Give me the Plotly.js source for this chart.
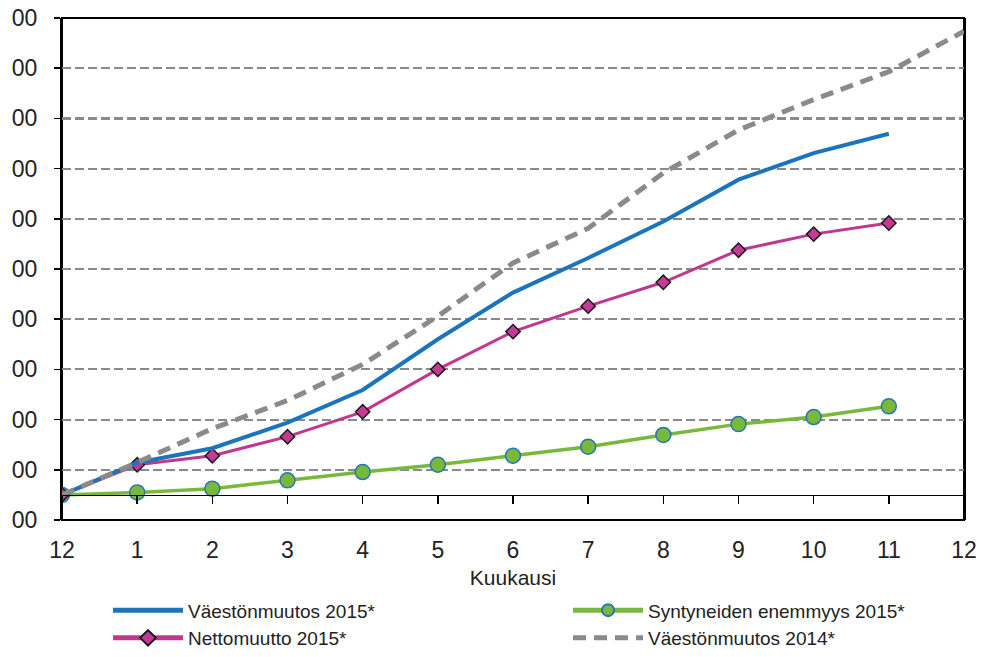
<!DOCTYPE html>
<html>
<head>
<meta charset="utf-8">
<script src="https://cdn.plot.ly/plotly-3.0.1.min.js"></script>
<style>html,body{margin:0;padding:0;background:#fff;}#chart{width:982px;height:657px;}</style>
</head>
<body>
<div id="chart"></div>
<script>
// Month labels (December of previous year, then Jan..Dec)
var months = ['12','1','2','3','4','5','6','7','8','9','10','11','12'];
// Cumulative population change
var vaestonmuutos2015 = [0, 640, 930, 1440, 2090, 3100, 4030, 4720, 5445, 6280, 6810, 7195];
var syntyneiden2015   = [0, 50, 125, 290, 455, 600, 780, 960, 1195, 1410, 1550, 1765];
var nettomuutto2015   = [0, 600, 780, 1160, 1655, 2500, 3253, 3760, 4235, 4875, 5195, 5415];
var vaestonmuutos2014 = [0, 645, 1320, 1880, 2600, 3560, 4620, 5310, 6415, 7270, 7875, 8430, 9235];
var yTickVals = [-500, 500, 1500, 2500, 3500, 4500, 5500, 6500, 7500, 8500, 9500];
var yTickText = ['00','00','00','00','00','00','00','00','00','00','00'];

function idx(arr){ return arr.map(function(_, i){ return i; }); }
var xIdx = idx(months);

var font = 'Liberation Sans, Arial, sans-serif';

var traces = [
  {
    name: 'Syntyneiden enemmyys 2015*', x: idx(syntyneiden2015), y: syntyneiden2015,
    mode: 'lines+markers', legend: 'legend2', legendrank: 1,
    line: {color: '#78B83A', width: 3.5},
    marker: {symbol: 'circle', size: 15, color: '#78B83A', line: {color: '#2A74B8', width: 1.5}}
  },
  {
    name: 'Nettomuutto 2015*', x: idx(nettomuutto2015), y: nettomuutto2015,
    mode: 'lines+markers', legend: 'legend', legendrank: 2,
    line: {color: '#C2378E', width: 3},
    marker: {symbol: 'diamond', size: 11, color: '#C43A94', line: {color: '#1a1a1a', width: 1.5}}
  },
  {
    name: 'Väestönmuutos 2015*', x: idx(vaestonmuutos2015), y: vaestonmuutos2015,
    mode: 'lines', legend: 'legend', legendrank: 1,
    line: {color: '#1B75BC', width: 4}
  },
  {
    name: 'Väestönmuutos 2014*', x: idx(vaestonmuutos2014), y: vaestonmuutos2014,
    mode: 'lines', legend: 'legend2', legendrank: 2,
    line: {color: '#8A8A8A', width: 5, dash: '13px,8px'}
  }
];

var legendCommon = {
  orientation: 'v', xanchor: 'left', yanchor: 'top', yref: 'container', y: 0.1,
  itemwidth: 70, font: {family: font, size: 19, color: '#222'},
  traceorder: 'normal', bgcolor: 'rgba(0,0,0,0)', itemsizing: 'constant'
};

var layout = {
  width: 982, height: 657,
  margin: {l: 62, r: 18, t: 18, b: 137},
  paper_bgcolor: '#fff', plot_bgcolor: '#fff',
  font: {family: font, color: '#222', size: 22},
  showlegend: true,
  legend: Object.assign({}, legendCommon, {x: 0.051}),
  legend2: Object.assign({}, legendCommon, {x: 0.561}),
  // plot-area frame
  shapes: [{
    type: 'rect', xref: 'paper', yref: 'paper', x0: 0, x1: 1, y0: 0, y1: 1,
    line: {color: '#000', width: 2}, fillcolor: 'rgba(0,0,0,0)', layer: 'below'
  }],
  xaxis: {
    range: [0, 12], tickvals: xIdx, ticktext: months,
    anchor: 'free', position: 0.05,
    showgrid: false, zeroline: false,
    showline: true, linecolor: '#000', linewidth: 1.5,
    ticks: 'outside', ticklen: 8, tickwidth: 1.5, tickcolor: '#000',
    ticklabelstandoff: 26,
    tickfont: {family: font, size: 23, color: '#222'},
    title: {text: 'Kuukausi', font: {family: font, size: 21, color: '#222'}, standoff: 8}
  },
  yaxis: {
    range: [-500, 9500], tickvals: yTickVals, ticktext: yTickText,
    showgrid: true, gridcolor: '#8A8A8A', gridwidth: 2.2, griddash: '9px,4px',
    zeroline: false,
    showline: true, mirror: true, linecolor: '#000', linewidth: 2,
    ticks: 'outside', ticklen: 6, tickwidth: 1.5, tickcolor: '#000',
    ticklabelstandoff: 12,
    tickfont: {family: font, size: 23, color: '#222'}
  }
};

Plotly.newPlot('chart', traces, layout, {displayModeBar: false, staticPlot: true});
</script>
</body>
</html>
